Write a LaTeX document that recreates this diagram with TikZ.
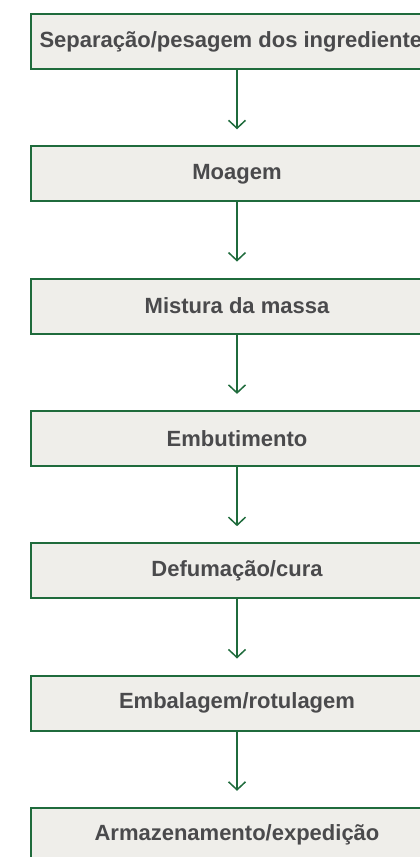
\documentclass[tikz,border=0pt]{standalone}
\usepackage{fontspec}
\setmainfont{Liberation Sans}
\usetikzlibrary{arrows.meta,positioning}
\definecolor{etapa}{HTML}{1F6B3C}
\definecolor{fundo}{HTML}{EFEEEA}
\definecolor{texto}{HTML}{4A4A4C}

\begin{document}
\begin{tikzpicture}[
  node distance=75.3pt,
  passo/.style={draw=etapa,line width=2pt,fill=fundo,minimum width=412pt,minimum height=55pt,
    font=\fontsize{22pt}{26pt}\selectfont\bfseries,text=texto},
  seta/.style={etapa,line width=1.5pt,-{Straight Barb[length=8pt,width=17pt]},shorten >=16pt}]
  \clip (0,0) rectangle (420pt,-857pt);
  \node[passo] (sep) at (237pt,-41.5pt) {Separação/pesagem dos ingredientes};
  \node[passo,below=of sep] (moa) {Moagem};
  \node[passo,below=of moa] (mis) {Mistura da massa};
  \node[passo,below=of mis] (emb) {Embutimento};
  \node[passo,below=of emb] (def) {Defumação/cura};
  \node[passo,below=of def] (rot) {Embalagem/rotulagem};
  \node[passo,below=of rot] (arm) {Armazenamento/expedição};
  \foreach \a/\b in {sep/moa,moa/mis,mis/emb,emb/def,def/rot,rot/arm}
    \draw[seta] (\a) -- (\b);
\end{tikzpicture}
\end{document}
